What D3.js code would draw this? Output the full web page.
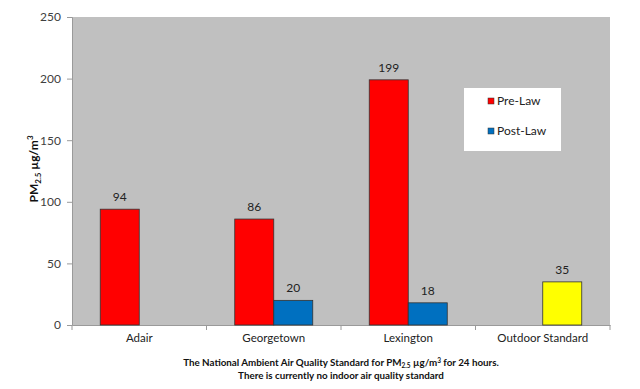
<!DOCTYPE html>
<html>
<head>
<meta charset="utf-8">
<script src="https://cdn.jsdelivr.net/npm/d3@7"></script>
<style>
  body { margin: 0; background: #fff; }
  svg text { font-family: Lato, "Open Sans", sans-serif; }
</style>
</head>
<body>
<div id="chart"></div>
<script>
var categories = ["Adair", "Georgetown", "Lexington", "Outdoor Standard"];
var preLaw = [94, 86, 199, null];
var postLaw = [null, 20, 18, 35];
var postColors = ["#0070C0", "#0070C0", "#0070C0", "#FFFF00"];
var yTicks = [0, 50, 100, 150, 200, 250];

var width = 640, height = 389;
var margin = { top: 17, right: 30, bottom: 64, left: 72 };
var innerW = width - margin.left - margin.right,
    innerH = height - margin.top - margin.bottom;

var svg = d3.select("#chart")
    .append("svg")
    .attr("width", width)
    .attr("height", height);

var g = svg.append("g")
    .attr("transform", "translate(" + margin.left + "," + margin.top + ")");

var x = d3.scaleBand().domain(categories).range([0, innerW]);
var y = d3.scaleLinear().domain([0, 250]).range([innerH, 0]);
var barW = 39;

// plot area
g.append("rect")
    .attr("width", innerW)
    .attr("height", innerH)
    .style("fill", "#C0C0C0");

// y axis
var yAxis = g.append("g")
    .call(d3.axisLeft(y).tickValues(yTicks).tickSize(5).tickPadding(6));
yAxis.select(".domain").style("stroke", "#9a9a9a");
yAxis.selectAll(".tick line").style("stroke", "#9a9a9a");
yAxis.selectAll("text").style("font-size", "12px").style("fill", "#404040");

// x axis
var xAxis = g.append("g")
    .attr("transform", "translate(0," + innerH + ")")
    .call(d3.axisBottom(x).tickSize(0).tickPadding(9));
xAxis.select(".domain").style("stroke", "#9a9a9a");
xAxis.selectAll("text").style("font-size", "11.5px").style("fill", "#222");
// category separators
g.selectAll(".sep")
    .data(d3.range(categories.length + 1))
    .enter().append("line")
    .attr("x1", function(i) { return i * x.bandwidth(); })
    .attr("x2", function(i) { return i * x.bandwidth(); })
    .attr("y1", innerH)
    .attr("y2", innerH + 5)
    .style("stroke", "#9a9a9a");

// bars
function drawBars(values, offset, colorFn) {
    var data = categories.map(function(c, i) { return { c: c, v: values[i], i: i }; })
        .filter(function(d) { return d.v != null; });
    g.selectAll(null)
        .data(data)
        .enter().append("rect")
        .attr("x", function(d) { return x(d.c) + x.bandwidth() / 2 + offset; })
        .attr("y", function(d) { return y(d.v); })
        .attr("width", barW)
        .attr("height", function(d) { return innerH - y(d.v); })
        .style("fill", colorFn)
        .style("stroke", "#333")
        .style("stroke-width", 0.8);
    g.selectAll(null)
        .data(data)
        .enter().append("text")
        .attr("x", function(d) { return x(d.c) + x.bandwidth() / 2 + offset + barW / 2; })
        .attr("y", function(d) { return y(d.v) - 8; })
        .attr("text-anchor", "middle")
        .style("font-size", "12px")
        .style("fill", "#222")
        .text(function(d) { return d.v; });
}
drawBars(preLaw, -barW, function() { return "#FF0000"; });
drawBars(postLaw, 0, function(d) { return postColors[d.i]; });

// legend
var legend = svg.append("g").attr("transform", "translate(464,88)");
legend.append("rect").attr("width", 97).attr("height", 63).style("fill", "#fff");
var legendItems = [{ name: "Pre-Law", color: "#FF0000" }, { name: "Post-Law", color: "#0070C0" }];
legend.selectAll(".li")
    .data(legendItems)
    .enter().append("g")
    .attr("transform", function(d, i) { return "translate(24," + (15 + i * 30) + ")"; })
    .each(function(d) {
        var s = d3.select(this);
        s.append("rect").attr("width", 6).attr("height", 6).attr("y", -5)
            .style("fill", d.color).style("stroke", "#333").style("stroke-width", 0.5);
        s.append("text").attr("x", 9).attr("y", 2)
            .style("font-size", "12px").style("fill", "#222").text(d.name);
    });

// y title
var yt = svg.append("text")
    .attr("transform", "translate(38,169) rotate(-90)")
    .attr("text-anchor", "middle")
    .style("font-size", "12px")
    .style("font-weight", "bold")
    .style("fill", "#111");
yt.append("tspan").text("PM");
yt.append("tspan").attr("dy", 3).style("font-size", "8px").text("2.5");
yt.append("tspan").attr("dy", -3).text(" \u00b5g/m");
yt.append("tspan").attr("dy", -5).style("font-size", "8px").text("3");

// footnote
var f1 = svg.append("text")
    .attr("x", 341).attr("y", 366)
    .attr("text-anchor", "middle")
    .style("font-size", "9.8px").style("font-weight", "bold").style("fill", "#111");
f1.append("tspan").text("The National Ambient Air Quality Standard for PM");
f1.append("tspan").attr("dy", 2).style("font-size", "6.5px").text("2.5");
f1.append("tspan").attr("dy", -2).text(" \u00b5g/m");
f1.append("tspan").attr("dy", -3).style("font-size", "6.5px").text("3");
f1.append("tspan").attr("dy", 3).text(" for 24 hours.");
svg.append("text")
    .attr("x", 341).attr("y", 379)
    .attr("text-anchor", "middle")
    .style("font-size", "9.8px").style("font-weight", "bold").style("fill", "#111")
    .text("There is currently no indoor air quality standard");
</script>
</body>
</html>
